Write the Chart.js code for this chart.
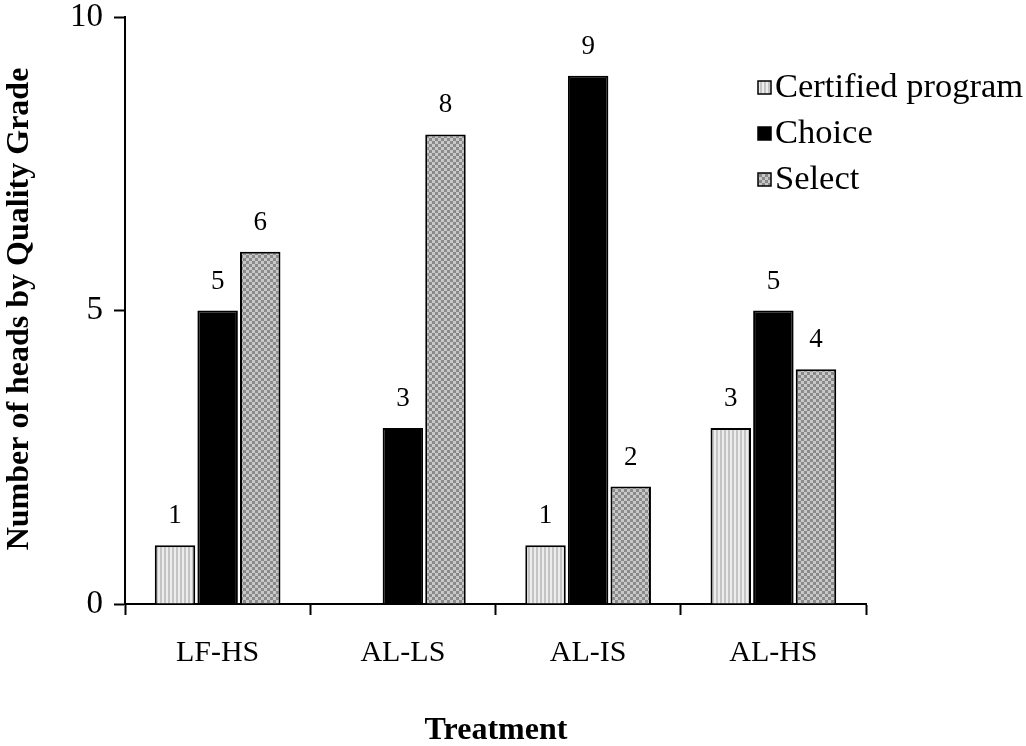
<!DOCTYPE html>
<html>
<head>
<meta charset="utf-8">
<script src="https://cdn.jsdelivr.net/npm/chart.js@4"></script>
<style>
  html, body { margin: 0; padding: 0; background: #fff; }
  #wrap { width: 1026px; height: 746px; position: relative; }
</style>
</head>
<body>
<div id="wrap"><canvas id="chart"></canvas></div>
<script>
const treatments = ["LF-HS", "AL-LS", "AL-IS", "AL-HS"];
const certified = [1, 0, 1, 3];
const choice = [5, 3, 9, 5];
const select = [6, 8, 2, 4];
const yTicks = [0, 5, 10];

const FONT = "'Liberation Serif', 'Times New Roman', serif";

function stripePattern() {
  const c = document.createElement('canvas');
  c.width = 4; c.height = 4;
  const g = c.getContext('2d');
  g.fillStyle = '#ececec';
  g.fillRect(0, 0, 4, 4);
  g.fillStyle = '#c4c4c4';
  g.fillRect(0, 0, 2, 4);
  return g.createPattern(c, 'repeat');
}

function checkPattern() {
  const c = document.createElement('canvas');
  c.width = 6; c.height = 6;
  const g = c.getContext('2d');
  g.fillStyle = '#8a8a8a';
  g.fillRect(0, 0, 6, 6);
  g.fillStyle = '#c8c8c8';
  g.fillRect(0, 0, 3, 3);
  g.fillRect(3, 3, 3, 3);
  return g.createPattern(c, 'repeat');
}

const certFill = stripePattern();
const selectFill = checkPattern();

const extras = {
  id: 'extras',
  afterDatasetsDraw(chart) {
    const ctx = chart.ctx;
    ctx.save();
    // value labels above bars
    ctx.fillStyle = '#000';
    ctx.font = '27px ' + FONT;
    ctx.textAlign = 'center';
    ctx.textBaseline = 'middle';
    chart.data.datasets.forEach((ds, i) => {
      chart.getDatasetMeta(i).data.forEach((bar, j) => {
        const v = ds.data[j];
        if (!v) return;
        ctx.fillText(String(v), bar.x, bar.y - 29);
      });
    });

    // legend
    const names = ["Certified program", "Choice", "Select"];
    const fills = [certFill, '#000', selectFill];
    ctx.font = '34.5px ' + FONT;
    ctx.textAlign = 'left';
    names.forEach((n, i) => {
      const y = 88 + i * 46;
      ctx.fillStyle = fills[i];
      ctx.fillRect(758, y - 7, 13, 13);
      ctx.strokeStyle = '#000';
      ctx.lineWidth = 1.5;
      ctx.strokeRect(758, y - 7, 13, 13);
      ctx.fillStyle = '#000';
      ctx.fillText(n, 775, y);
    });

    // axis titles
    ctx.font = 'bold 32px ' + FONT;
    ctx.textAlign = 'center';
    ctx.fillText('Treatment', 496, 731);
    ctx.translate(20, 309);
    ctx.rotate(-Math.PI / 2);
    ctx.fillText('Number of heads by Quality Grade', 0, 0);
    ctx.restore();
  }
};

const ctx = document.getElementById('chart').getContext('2d');
new Chart(ctx, {
  type: 'bar',
  data: {
    labels: treatments,
    datasets: [
      { label: 'Certified program', data: certified, backgroundColor: certFill },
      { label: 'Choice', data: choice, backgroundColor: '#000' },
      { label: 'Select', data: select, backgroundColor: selectFill }
    ].map(d => Object.assign(d, {
      borderColor: '#000',
      borderWidth: 2,
      borderSkipped: 'bottom',
      categoryPercentage: 0.69,
      barPercentage: 0.95
    }))
  },
  options: {
    responsive: true,
    maintainAspectRatio: false,
    animation: false,
    layout: { padding: { top: 17, right: 160, left: 0, bottom: 0 } },
    plugins: { legend: { display: false }, tooltip: { enabled: false } },
    scales: {
      x: {
        offset: true,
        grid: {
          offset: true,
          drawOnChartArea: false,
          drawTicks: true,
          tickLength: 11,
          tickWidth: 2,
          color: '#000'
        },
        border: { color: '#000', width: 2 },
        ticks: { color: '#000', font: { family: FONT, size: 30 }, padding: 20 },
        afterFit(s) { s.height = 142; s.paddingLeft = 0; s.paddingRight = 0; }
      },
      y: {
        min: 0,
        max: 10,
        afterBuildTicks(s) { s.ticks = yTicks.map(v => ({ value: v })); },
        grid: {
          drawOnChartArea: false,
          drawTicks: true,
          tickLength: 11,
          tickWidth: 2,
          color: '#000'
        },
        border: { color: '#000', width: 2 },
        ticks: { color: '#000', font: { family: FONT, size: 33, lineHeight: 1 }, padding: 11 },
        afterFit(s) { s.width = 125; s.paddingTop = 0; s.paddingBottom = 0; }
      }
    }
  },
  plugins: [extras]
});
</script>
</body>
</html>
